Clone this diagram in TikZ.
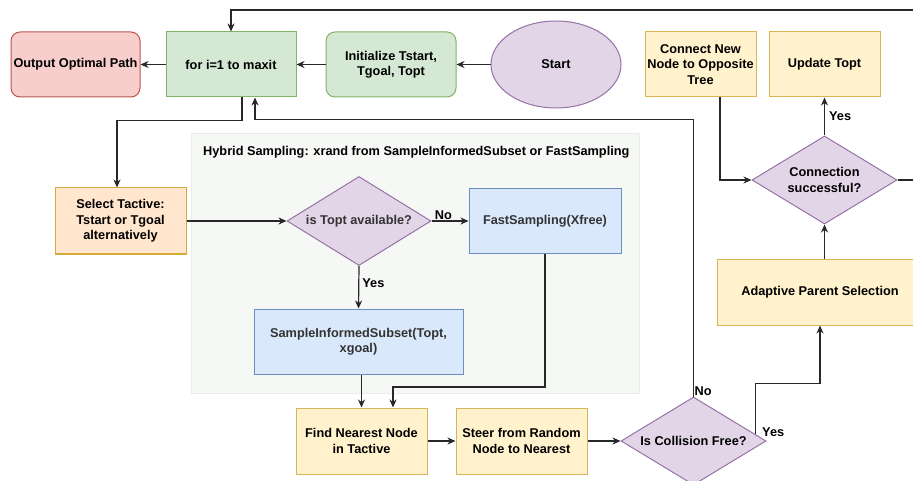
\documentclass[tikz,border=0pt]{standalone}
\usepackage{fontspec}
\setmainfont{Liberation Sans}
\usetikzlibrary{positioning,arrows.meta,shapes.geometric,calc}
\definecolor{redfill}{RGB}{248,206,204}
\definecolor{redline}{RGB}{184,84,80}
\definecolor{grnfill}{RGB}{213,232,212}
\definecolor{grnline}{RGB}{130,179,102}
\definecolor{purfill}{RGB}{225,213,231}
\definecolor{purline}{RGB}{150,115,166}
\definecolor{ylwfill}{RGB}{255,242,204}
\definecolor{ylwline}{RGB}{214,182,86}
\definecolor{orgfill}{RGB}{255,230,204}
\definecolor{orgline}{RGB}{215,170,60}
\definecolor{bluefill}{RGB}{218,232,252}
\definecolor{blueline}{RGB}{108,142,191}
\definecolor{hybfill}{RGB}{246,248,245}
\definecolor{hybline}{RGB}{232,238,228}
\definecolor{ink}{RGB}{40,40,40}
\definecolor{txtgray}{RGB}{51,51,51}
\tikzset{
  box/.style={draw=#1line, fill=#1fill, line width=1pt, align=center, minimum height=65pt, minimum width=130pt, inner sep=2pt, font=\fontsize{12.75}{15.3}\selectfont\bfseries},
  box/.default={ylw},
  soft/.style={box=#1, rounded corners=9pt},
  oval/.style={box=#1, ellipse},
  choice/.style={box=#1, diamond, aspect=1.6, inner sep=0pt, minimum width=145pt, minimum height=88pt},
  arrow/.style={-{Stealth[length=8pt,width=7pt,inset=2.5pt]}, line width=1.2pt, draw=ink},
  lbl/.style={font=\fontsize{12.75}{15.3}\selectfont\bfseries, inner sep=1pt}
}
\begin{document}
\begin{tikzpicture}[x=1pt,y=-1pt]
  \useasboundingbox (0,0) rectangle (913,481);
  % hybrid sampling group
  \node[draw=hybline, fill=hybfill, minimum width=448pt, minimum height=260pt] (hybrid) at (415,263) {};
  \node[lbl, anchor=west] (hybtitle) at (202,152) {Hybrid Sampling: xrand from SampleInformedSubset or FastSampling};
  % top row
  \node[soft=red, minimum width=129pt] (out) at (75.5,64.5) {Output Optimal Path};
  \node[box=grn] (loop) at (231,64.5) {for i=1 to maxit};
  \node[soft=grn] (init) at (391,64.5) {Initialize Tstart,\\Tgoal, Topt};
  \node[oval=pur, minimum height=87pt] (start) at (556,64.5) {Start};
  \node[box=ylw, minimum width=111pt] (connect) at (700.5,64.5) {Connect New\\Node to Opposite\\Tree};
  \node[box=ylw, minimum width=111pt] (update) at (824.5,64.5) {Update Topt};
  % middle
  \node[box=org, minimum width=131pt, minimum height=66pt] (select) at (120.5,221) {Select Tactive:\\Tstart or Tgoal\\alternatively};
  \node[choice=pur, minimum width=144pt, minimum height=89pt, text=txtgray] (avail) at (359,221) {is Topt available?};
  \node[box=blue, minimum width=152pt, text=txtgray] (fast) at (545,221) {FastSampling(Xfree)};
  \node[box=blue, minimum width=209pt, text=txtgray] (informed) at (358.5,341.5) {SampleInformedSubset(Topt,\\xgoal)};
  \node[choice=pur] (conn) at (824.5,180) {Connection\\successful?};
  \node[box=ylw, minimum width=206pt, minimum height=66pt] (adaptive) at (820,292) {Adaptive Parent Selection};
  % bottom row
  \node[box=ylw, minimum width=131pt, minimum height=66pt] (nearest) at (361.5,441) {Find Nearest Node\\in Tactive};
  \node[box=ylw, minimum width=131pt, minimum height=66pt] (steer) at (521.5,441) {Steer from Random\\Node to Nearest};
  \node[choice=pur] (collide) at (693.5,441) {Is Collision Free?};
  \coordinate (back) at (935,10);
  % connectors
  \draw[arrow] (start) -- (init);
  \draw[arrow] (init) -- (loop);
  \draw[arrow] (loop) -- (out);
  \draw[arrow] ([xshift=11pt]loop.south) -- ++(0,23) -| ([xshift=-3.5pt]select.north);
  \draw[arrow] (select) -- (avail);
  \draw[arrow] (avail) -- (fast) node[lbl, pos=0.05, above right] {No};
  \draw[arrow] (avail.south) -- (informed.south |- informed.north) node[lbl, pos=0.4, right=2pt] {Yes};
  \draw[arrow] (informed.south -| nearest.north) -- (nearest.north);
  \draw[arrow] (fast.south) -- ++(0,133) -| ([xshift=31.5pt]nearest.north);
  \draw[arrow] (nearest) -- (steer);
  \draw[arrow] (steer) -- (collide);
  \draw[arrow] (collide.north) -- ++(0,-277) -| ([xshift=24pt]loop.south);
  \node[lbl, anchor=south west] (nolbl) at (collide.north) {No};
  \draw[arrow] ($(collide.east)!0.15!(collide.north)$) |- ($(adaptive.south)+(0,58)$) -- (adaptive.south);
  \node[lbl, anchor=west] (yeslbl) at (761,432) {Yes};
  \draw[arrow] (adaptive.north -| conn.south) -- (conn.south);
  \draw[arrow] (conn.north) -- (update.south -| conn.north) node[lbl, midway, right=3pt] {Yes};
  \draw[arrow] ([xshift=19.5pt]connect.south) |- (conn.west);
  \draw[arrow] (conn.east) -| (back) -| (loop.north);
\end{tikzpicture}
\end{document}
